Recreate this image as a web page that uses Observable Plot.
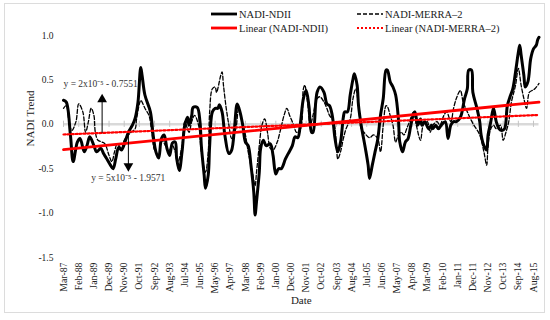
<!DOCTYPE html>
<html><head><meta charset="utf-8">
<script src="https://cdn.jsdelivr.net/npm/d3@7"></script>
<script src="https://cdn.jsdelivr.net/npm/@observablehq/plot@0.6"></script>
<style>
body{margin:0;background:#fff;}
#wrap{position:relative;width:550px;height:320px;font-family:"Liberation Serif",serif;overflow:hidden;}
#chart{position:absolute;left:0;top:0;}
#frame{position:absolute;left:4px;top:3px;width:539px;height:308px;border:1.5px solid #dcdcdc;pointer-events:none;}
#legend{position:absolute;left:0;top:0;}
</style></head><body>
<div id="wrap"><div id="chart"></div><svg id="legend" width="550" height="36"></svg><div id="frame"></div></div>
<script>
// ---- data (months counted from Mar-1987) ----
const startYear = 1987, startMonth = 2; // March
const tickLabels = ["Mar-87","Feb-88","Jan-89","Dec-89","Nov-90","Oct-91","Sep-92","Aug-93","Jul-94","Jun-95","May-96","Apr-97","Mar-98","Feb-99","Jan-00","Dec-00","Nov-01","Oct-02","Sep-03","Aug-04","Jul-05","Jun-06","May-07","Apr-08","Mar-09","Feb-10","Jan-11","Dec-11","Nov-12","Oct-13","Sep-14","Aug-15"];
const yTicks = [-1.5, -1.0, -0.5, 0.0, 0.5, 1.0];

const ndiiMonth = [0,2,5,7,10,12,15,17,19,22,24,27,29,31,34,36,38,40,42,45,47,50,52,54,56,57,59,63,65,67,69,71,73,75,77,79,81,82,84,86,88,90,91,93,94,97,99,100,102,103,105,106,108,110,112,113,115,117,120,122,124,126,128,130,132,134,136,138,139,140,142,143,145,147,150,152,154,156,158,161,163,166,168,170,172,174,176,178,180,181,183,184,186,189,191,193,195,197,199,201,203,204,206,208,210,211,213,214,216,219,221,222,224,226,228,230,232,234,235,237,239,241,243,244,246,248,250,252,254,255,257,259,260,262,265,267,268,270,272,274,277,279,281,283,285,288,291,293,294,296,297,300,302,303,305,307,308,310,312,314,316,318,320,322,324,326,328,330,331,332,334,335,337,339,341,343,344,345];
const ndiiValue = [0.27,0.25,-0.12,-0.42,-0.2,-0.16,-0.31,-0.24,-0.14,-0.24,-0.31,-0.27,-0.33,-0.38,-0.46,-0.5,-0.38,-0.26,-0.29,-0.18,-0.09,-0.01,0.07,0.25,0.64,0.55,0.33,0.14,-0.12,-0.31,-0.38,-0.16,-0.12,-0.27,-0.35,-0.21,-0.2,-0.38,-0.52,-0.31,-0.01,0.08,-0.01,0.1,0.19,0.19,0.03,-0.24,-0.57,-0.72,-0.57,-0.24,0.14,0.18,0.18,0.22,0.14,-0.12,-0.33,-0.29,-0.05,0.23,0.14,-0.01,-0.2,-0.24,-0.46,-0.76,-1.02,-0.87,-0.54,-0.27,-0.18,-0.24,-0.22,-0.35,-0.56,-0.5,-0.5,-0.39,-0.33,-0.24,-0.14,-0.15,0.03,0.29,0.38,0.21,-0.09,-0.09,0.25,0.36,0.42,0.36,0.23,0.21,0.1,-0.16,-0.31,-0.2,0.08,0.14,0.14,0.33,0.51,0.57,0.44,0.21,-0.01,-0.27,-0.46,-0.61,-0.46,-0.31,-0.17,0.1,0.29,0.61,0.61,0.48,0.42,0.33,0.06,-0.2,-0.31,-0.2,-0.16,-0.01,0.12,0.14,-0.01,0.06,-0.01,0.03,-0.05,-0.01,-0.05,-0.01,-0.05,-0.01,0.03,-0.16,-0.01,0.03,0.03,0.08,0.29,0.4,0.61,0.61,0.36,0.18,0.03,-0.12,-0.24,-0.29,-0.12,0.03,0.18,0.03,-0.05,-0.07,-0.05,0.21,0.31,0.4,0.59,0.81,0.89,0.78,0.55,0.42,0.48,0.74,0.85,0.89,0.95,0.98];

const merraMonth = [0,2,4,6,9,11,14,16,18,20,22,23,25,28,30,33,35,37,39,42,44,47,49,52,53,56,57,59,62,64,66,69,71,74,76,79,81,83,86,88,91,93,95,98,100,103,105,106,108,110,111,114,115,116,118,120,122,125,127,129,132,134,137,139,140,142,144,146,148,150,152,155,157,160,162,164,167,169,172,174,175,177,179,181,184,186,189,191,193,196,198,199,201,203,205,208,210,212,214,216,218,222,225,228,230,232,234,235,237,239,241,243,245,247,249,251,254,256,259,261,264,266,268,271,273,276,278,281,283,285,288,290,293,297,302,305,307,308,310,312,314,317,319,321,323,325,328,330,332,334,336,338,340,342,345];
const merraValue = [0.18,0.21,0.03,-0.07,0.03,0.23,0.14,-0.09,0.03,0.18,0.1,-0.09,-0.18,-0.2,-0.22,-0.35,-0.42,-0.31,-0.22,-0.27,-0.18,-0.12,-0.09,-0.05,0.06,0.27,0.25,0.18,0.1,-0.09,-0.29,-0.35,-0.18,-0.24,-0.31,-0.24,-0.31,-0.42,-0.24,0.03,-0.09,0.03,0.1,-0.01,-0.31,-0.54,-0.31,0.14,0.4,0.42,0.36,0.55,0.59,0.44,0.18,-0.01,-0.16,-0.05,0.18,0.06,-0.12,-0.31,-0.54,-0.69,-0.54,-0.24,-0.01,0.06,-0.09,-0.27,-0.29,-0.2,-0.09,0.1,0.18,0.1,-0.01,-0.09,-0.05,0.4,0.44,0.25,-0.01,0.1,0.29,0.31,0.25,0.18,0.1,0.03,-0.24,-0.39,-0.31,-0.16,-0.05,0.06,0.29,0.4,0.21,-0.05,-0.09,-0.15,-0.12,-0.16,-0.31,-0.01,0.21,0.2,0.1,-0.01,-0.2,-0.12,-0.09,-0.12,-0.05,0.03,0.14,-0.01,-0.18,-0.01,0.03,-0.09,-0.01,0.03,-0.01,0.1,0.14,0.03,0.18,0.29,0.38,0.25,0.14,0.01,-0.12,-0.31,-0.46,-0.24,-0.05,-0.01,-0.05,-0.01,-0.18,-0.09,0.03,0.25,0.44,0.63,0.44,0.29,0.18,0.36,0.38,0.4,0.46];

const trendMonth = [0, 345];
const ndiiTrend = [-0.285, 0.25];
const merraTrend = [-0.115, 0.105];

const eqLabels = ["y = 2x10\u207B\u2075 - 0.7551", "y = 5x10\u207B\u2075 - 1.9571"];
const eqMonth = [0, 20];
const eqValue = [0.45, -0.60];
const arrowMonth = [28, 47];
const arrowFrom = [-0.10, -0.124];
const arrowTo = [0.28, -0.47];
const arrowDir = [0, 180];

const legendItems = ["NADI-NDII", "NADI-MERRA\u20132", "Linear (NADI-NDII)", "Linear (NADI-MERRA\u20132)"];

// ---- build ----
const toDate = m => new Date(Date.UTC(startYear, startMonth + m, 1));
const ndii = ndiiMonth.map((m, i) => ({date: toDate(m), value: ndiiValue[i]}));
const merra = merraMonth.map((m, i) => ({date: toDate(m), value: merraValue[i]}));
const trendN = trendMonth.map((m, i) => ({date: toDate(m), value: ndiiTrend[i]}));
const trendM = trendMonth.map((m, i) => ({date: toDate(m), value: merraTrend[i]}));
const tickDates = tickLabels.map((_, i) => toDate(11 * i));
const labelOf = new Map(tickDates.map((d, i) => [+d, tickLabels[i]]));
const eqs = eqLabels.map((t, i) => ({date: toDate(eqMonth[i]), value: eqValue[i], text: t}));
const arrows = arrowMonth.map((m, i) => ({date: toDate(m), from: arrowFrom[i], to: arrowTo[i], rot: arrowDir[i]}));

const font = "Liberation Serif, Times New Roman, serif";
const chart = Plot.plot({
  width: 550, height: 320,
  marginTop: 35, marginBottom: 63, marginLeft: 63, marginRight: 11.5,
  style: {fontFamily: font, fontSize: "9.5px", color: "#222", background: "transparent", overflow: "visible"},
  x: {type: "utc", domain: [toDate(0), toDate(345)]},
  y: {domain: [-1.5, 1.0]},
  marks: [
    Plot.ruleY([0], {stroke: "#d9d9d9", strokeWidth: 2.5}),
    Plot.ruleX(tickDates, {x: d => d, y1: -0.035, y2: 0.035, stroke: "#c4c4c4", strokeWidth: 1}),
    Plot.line(merra, {x: "date", y: "value", stroke: "#000", strokeWidth: 1.3, strokeDasharray: "4,2", curve: "catmull-rom"}),
    Plot.line(ndii, {x: "date", y: "value", stroke: "#000", strokeWidth: 3, curve: "catmull-rom"}),
    Plot.line(trendN, {x: "date", y: "value", stroke: "#ff0000", strokeWidth: 2.8}),
    Plot.line(trendM, {x: "date", y: "value", stroke: "#ff0000", strokeWidth: 2.2, strokeDasharray: "2,2"}),
    Plot.ruleX(arrows, {x: "date", y1: "from", y2: "to", stroke: "#000", strokeWidth: 1}),
    Plot.dot(arrows, {x: "date", y: "to", symbol: "triangle", r: 3.6, fill: "#000", stroke: null, rotate: "rot"}),
    Plot.text(eqs, {x: "date", y: "value", text: "text", textAnchor: "start", fontSize: 9.5, fill: "#333"}),
    Plot.axisY({ticks: yTicks, tickFormat: d => d.toFixed(1), tickSize: 0, tickPadding: 10, label: null, fontSize: 9.5}),
    Plot.axisX({ticks: tickDates, tickFormat: d => labelOf.get(+d), tickRotate: -90, tickSize: 0, tickPadding: 5, label: null, fontSize: 9.8}),
    Plot.text(["NADI Trend"], {frameAnchor: "left", dx: -33, rotate: -90, fontSize: 11, fill: "#222"}),
    Plot.text(["Date"], {frameAnchor: "bottom", dy: 46, fontSize: 11, fill: "#222"})
  ]
});
document.getElementById("chart").append(chart);

// ---- legend ----
const lg = d3.select("#legend");
const rows = [
  {x: 211, y: 14, stroke: "#000", w: 2.8, dash: null, t: legendItems[0]},
  {x: 357, y: 14, stroke: "#000", w: 1.3, dash: "4,2", t: legendItems[1]},
  {x: 211, y: 28, stroke: "#ff0000", w: 2.8, dash: null, t: legendItems[2]},
  {x: 357, y: 28, stroke: "#ff0000", w: 2.2, dash: "2,2", t: legendItems[3]}
];
rows.forEach(r => {
  lg.append("line").attr("x1", r.x).attr("x2", r.x + 26).attr("y1", r.y).attr("y2", r.y)
    .attr("stroke", r.stroke).attr("stroke-width", r.w).attr("stroke-dasharray", r.dash);
  lg.append("text").attr("x", r.x + 28).attr("y", r.y).attr("dy", "0.35em")
    .attr("font-family", font).attr("font-size", 10.5).attr("fill", "#222").text(r.t);
});
</script>
</body></html>
